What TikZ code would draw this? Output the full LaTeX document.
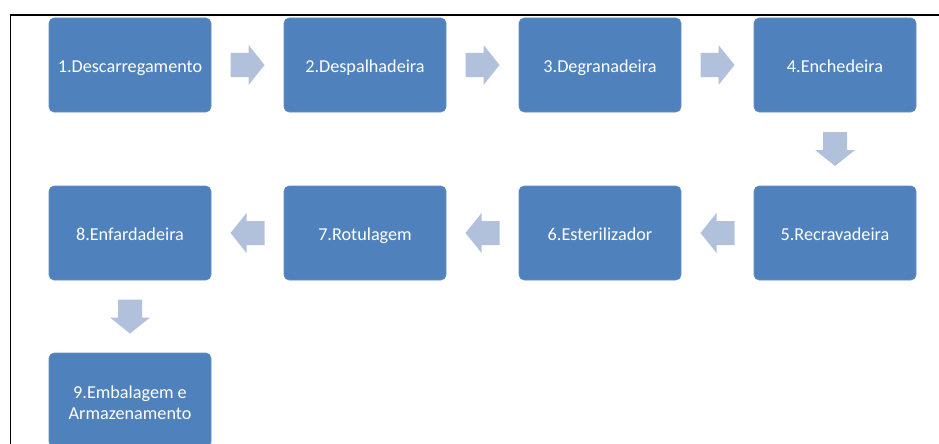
\documentclass[tikz,border=0pt]{standalone}
\usepackage{fontspec}
\setmainfont{Carlito}
\usetikzlibrary{calc}
\definecolor{boxblue}{HTML}{4F81BD}
\definecolor{boxedge}{HTML}{6590C8}
\definecolor{arrowfill}{HTML}{B2C1DB}
\tikzset{
  stepbox/.style={rectangle, rounded corners=5pt, fill=boxblue, draw=boxedge, line width=0.6pt,
    minimum width=162pt, minimum height=94pt, inner sep=2pt, text=white, align=center,
    text height=15.5pt, text depth=0.5pt,
    font=\fontsize{18.2}{21}\selectfont},
}
\newcommand\blockarrow[2]{%
  \fill[arrowfill, shift={#1}, rotate=#2] (-17,-12) -- (1,-12) -- (1,-20) -- (17,0) -- (1,20) -- (1,12) -- (-17,12) -- cycle;}
\begin{document}
\begin{tikzpicture}[x=1pt,y=-1pt]
\useasboundingbox (0,0) rectangle (939,444);
\fill[white] (0,0) rectangle (939,444);
\draw[line width=1.8pt] (939,15) -- (10.5,15) -- (10.5,444);
\node[stepbox] (n1) at (130,65) {1.Descarregamento};
\node[stepbox] (n2) at (365,65) {2.Despalhadeira};
\node[stepbox] (n3) at (600,65) {3.Degranadeira};
\node[stepbox] (n4) at (835,65) {4.Enchedeira};
\node[stepbox] (n5) at (835,233) {5.Recravadeira};
\node[stepbox] (n6) at (600,233) {6.Esterilizador};
\node[stepbox] (n7) at (365,233) {7.Rotulagem};
\node[stepbox] (n8) at (130,233) {8.Enfardadeira};
\node[stepbox, text height=39.5pt] (n9) at (130,400) {9.Embalagem e\\Armazenamento};
\blockarrow{($(n1.east)!0.5!(n2.west)$)}{0}
\blockarrow{($(n2.east)!0.5!(n3.west)$)}{0}
\blockarrow{($(n3.east)!0.5!(n4.west)$)}{0}
\blockarrow{($(n4.south)!0.5!(n5.north)$)}{-90}
\blockarrow{($(n5.west)!0.5!(n6.east)$)}{180}
\blockarrow{($(n6.west)!0.5!(n7.east)$)}{180}
\blockarrow{($(n7.west)!0.5!(n8.east)$)}{180}
\blockarrow{($(n8.south)!0.5!(n9.north)$)}{-90}
\end{tikzpicture}
\end{document}
